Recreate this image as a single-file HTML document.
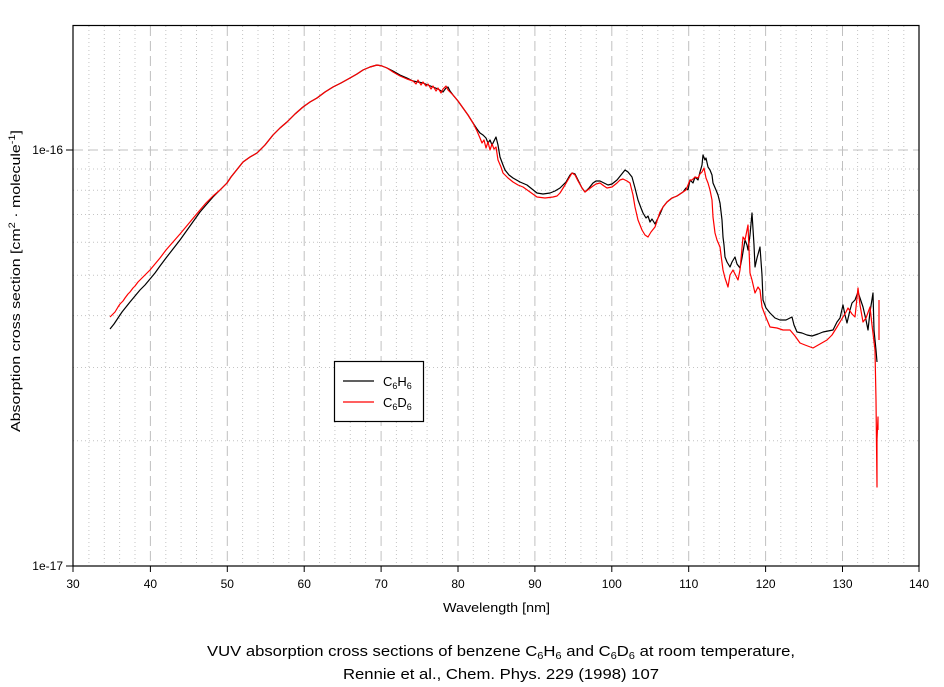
<!DOCTYPE html>
<html><head><meta charset="utf-8"><style>
html,body{margin:0;padding:0;background:#fff;}
svg{display:block;font-family:"Liberation Sans",Arial,sans-serif;}
</style></head><body>
<svg width="944" height="687" viewBox="0 0 944 687" xmlns="http://www.w3.org/2000/svg">
<rect width="944" height="687" fill="#fff"/>
<!-- minor vertical grid -->
<g stroke="#c4c4c4" stroke-width="1" stroke-dasharray="1 3" fill="none">
<path d="M88.9,26V566M104.3,26V566M119.6,26V566M135,26V566
M165.8,26V566M181.1,26V566M196.5,26V566M211.9,26V566
M242.6,26V566M258,26V566M273.4,26V566M288.8,26V566
M319.5,26V566M334.9,26V566M350.3,26V566M365.6,26V566
M396.4,26V566M411.8,26V566M427.1,26V566M442.5,26V566
M473.3,26V566M488.6,26V566M504,26V566M519.4,26V566
M550.1,26V566M565.5,26V566M580.9,26V566M596.3,26V566
M627,26V566M642.4,26V566M657.8,26V566M673.1,26V566
M703.9,26V566M719.3,26V566M734.6,26V566M750,26V566
M780.8,26V566M796.1,26V566M811.5,26V566M826.9,26V566
M857.6,26V566M873,26V566M888.4,26V566M903.8,26V566"/>
<path d="M73,440.8H919M73,367.5H919M73,315.6H919M73,275.2H919M73,242.3H919M73,214.5H919M73,190.3H919M73,169H919"/>
</g>
<!-- major grid -->
<g stroke="#c0c0c0" stroke-width="1" stroke-dasharray="10 5" fill="none">
<path d="M150.4,26V566M227.3,26V566M304.2,26V566M381.1,26V566M458,26V566M534.9,26V566M611.8,26V566M688.7,26V566M765.6,26V566M842.5,26V566"/>
<path d="M73,150H919"/>
</g>
<!-- frame -->
<rect x="73" y="25.5" width="846" height="540.5" fill="none" stroke="#000" stroke-width="1.2"/>
<!-- ticks -->
<g stroke="#000" stroke-width="1">
<path d="M73,566v6M150.4,566v6M227.3,566v6M304.2,566v6M381.1,566v6M458,566v6M534.9,566v6M611.8,566v6M688.7,566v6M765.6,566v6M842.5,566v6M919,566v6"/>
<path d="M66,566h7M66,150h7"/>
</g>
<g font-size="12" text-anchor="middle" fill="#000">
<text x="73" y="588">30</text><text x="150.4" y="588">40</text><text x="227.3" y="588">50</text><text x="304.2" y="588">60</text><text x="381.1" y="588">70</text><text x="458" y="588">80</text><text x="534.9" y="588">90</text><text x="611.8" y="588">100</text><text x="688.7" y="588">110</text><text x="765.6" y="588">120</text><text x="842.5" y="588">130</text><text x="919" y="588">140</text>
</g>
<g font-size="12" text-anchor="end" fill="#000">
<text x="63" y="570">1e-17</text>
<text x="63" y="154">1e-16</text>
</g>
<text x="443" y="612" font-size="13" textLength="107" lengthAdjust="spacingAndGlyphs">Wavelength [nm]</text>
<text transform="translate(20,432) rotate(-90)" font-size="13" textLength="302" lengthAdjust="spacingAndGlyphs">Absorption cross section [cm<tspan font-size="9" dy="-5">2</tspan><tspan dy="5"> · molecule</tspan><tspan font-size="9" dy="-5">-1</tspan><tspan dy="5">]</tspan></text>
<!-- curves -->
<g fill="none" stroke-width="1.2" stroke-linejoin="round">
<polyline stroke="#000" points="110,329 114,324 118,318 122,312 126,307 130,302 135,296 140,290 145,285 150,279 155,273 160,266 166,258 173,249 180,240 185,233 190,226 195,219 200,212 206,205 213,197 220,190 227,183 231,177 235,172 239,167 243,162 250,157 257,153 261,149 265,145 269,140 273,135 280,128 287,122 295,114 303,107 310,102 317,98 325,92 333,87 341,83 350,78 357,74 363,70 370,67 377,65 382,66 387,68 393,71 400,75 407,78 413,81 418,82 423,83 428,85 433,87 438,89 443,92 446,88 448,87 450,91 453,95 458,101 463,108 468,115 473,123 477,129 480,133 483,135 486,138 488,143 490,140 492,145 494,141 496,137 498,145 500,157 503,165 505,170 509,175 513,178 520,182 527,185 532,189 537,193 543,194 550,193 555,191 560,188 566,182 570,175 572,173 575,174 578,180 582,188 585,192 589,188 593,183 596,181 600,181 604,183 608,185 612,184 617,180 621,175 625,170 628,172 632,177 635,188 638,200 641,208 643,213 646,218 648,216 650,222 652,219 655,224 657,220 660,214 663,207 667,202 672,198 677,196 683,192 686,188 688,190 690,180 693,183 695,177 698,180 700,172 702,165 703,155 705,160 706,158 708,167 710,170 712,175 713,183 716,190 718,195 720,203 722,220 723,237 724,245 725,257 727,262 730,267 732,262 735,257 737,264 740,268 742,258 745,240 747,245 748,250 750,235 752,213 754,245 755,267 757,258 760,247 762,275 763,300 766,308 770,313 775,318 780,320 786,320 790,318 792,317 794,325 797,332 802,333 807,335 812,336 818,334 823,332 828,331 833,330 837,322 840,318 843,305 845,315 847,323 850,310 852,303 855,300 858,292 860,298 863,307 866,320 868,330 870,312 873,293 874,330 876,350 877,362"/>
<polyline stroke="#f00" points="110,317 115,312 118,307 120,304 123,301 125,298 128,294 130,292 133,288 135,286 138,282 140,280 143,277 145,275 148,272 150,270 155,264 160,258 166,250 173,242 180,234 185,228 190,222 195,216 200,210 206,203 213,196 220,190 227,183 231,177 235,172 239,167 243,162 250,157 257,153 261,149 265,145 269,140 273,135 280,128 287,122 295,114 303,107 310,102 317,98 325,92 333,87 341,83 350,78 357,74 363,70 370,67 377,65 382,66 387,68 393,72 400,76 407,79 413,81 416,84 418,80 421,85 423,82 426,86 428,84 431,89 433,86 436,91 438,88 441,93 443,89 446,86 448,90 450,92 453,95 458,101 463,108 468,115 473,123 477,131 480,138 482,143 484,140 486,148 488,142 490,150 492,144 494,149 496,147 498,160 501,167 503,173 508,178 513,182 518,185 523,187 530,192 537,197 545,198 553,197 557,196 560,193 565,185 572,173 575,175 578,181 582,188 585,192 589,189 593,186 596,184 600,183 604,186 607,188 612,187 617,183 620,180 623,179 627,181 630,183 633,195 635,207 638,220 642,230 645,235 648,237 651,232 655,227 660,212 663,207 667,202 672,198 677,196 683,192 686,190 690,180 692,180 695,177 698,178 700,174 702,172 704,168 706,178 708,183 710,190 712,200 713,217 714,225 715,233 717,240 720,247 721,255 723,270 725,278 728,287 730,275 733,270 735,274 738,280 740,270 743,237 745,240 748,225 750,273 752,280 755,293 758,287 760,290 762,307 765,315 770,327 777,328 783,330 790,330 795,336 800,343 805,345 813,348 820,344 827,340 832,335 837,327 840,322 843,317 846,312 848,308 852,314 855,317 858,288 860,305 863,322 866,318 870,307 872,325 875,350 876,400 877,487 877,440 878,417 878,430"/>
<path stroke="#f00" d="M879,300V340"/>
</g>
<!-- legend -->
<rect x="334.5" y="361.5" width="89" height="60" fill="#fff" stroke="#000" stroke-width="1.2"/>
<path d="M343,381H374" stroke="#000" stroke-width="1.2"/>
<path d="M343,402H374" stroke="#f00" stroke-width="1.2"/>
<g font-size="13" fill="#000">
<text x="383" y="386">C<tspan font-size="9" dy="3">6</tspan><tspan dy="-3">H</tspan><tspan font-size="9" dy="3">6</tspan></text>
<text x="383" y="407">C<tspan font-size="9" dy="3">6</tspan><tspan dy="-3">D</tspan><tspan font-size="9" dy="3">6</tspan></text>
</g>
<!-- caption -->
<g font-size="15" fill="#000">
<text x="207" y="656" textLength="588" lengthAdjust="spacingAndGlyphs">VUV absorption cross sections of benzene C<tspan font-size="10" dy="3">6</tspan><tspan dy="-3">H</tspan><tspan font-size="10" dy="3">6</tspan><tspan dy="-3"> and C</tspan><tspan font-size="10" dy="3">6</tspan><tspan dy="-3">D</tspan><tspan font-size="10" dy="3">6</tspan><tspan dy="-3"> at room temperature,</tspan></text>
<text x="343" y="679" textLength="316" lengthAdjust="spacingAndGlyphs">Rennie et al., Chem. Phys. 229 (1998) 107</text>
</g>
</svg>
</body></html>
